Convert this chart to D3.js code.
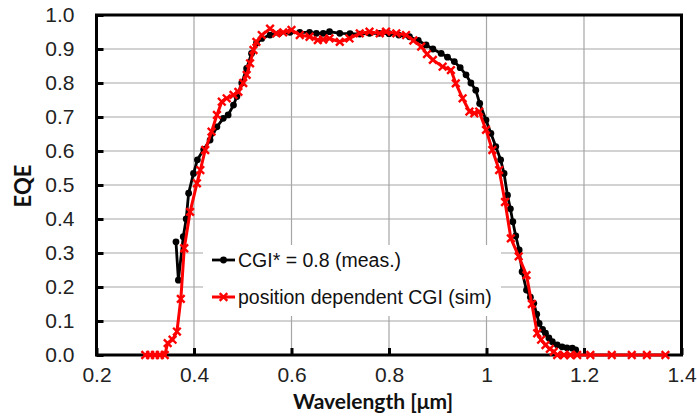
<!DOCTYPE html>
<html><head><meta charset="utf-8">
<script src="https://cdn.jsdelivr.net/npm/d3@7"></script>
<style>body{margin:0;background:#fff}svg{display:block}</style>
</head><body>
<script>
const xTicks = [0.2, 0.4, 0.6, 0.8, 1.0, 1.2, 1.4];
const xTickLabels = ["0.2", "0.4", "0.6", "0.8", "1", "1.2", "1.4"];
const yTicks = [0.0, 0.1, 0.2, 0.3, 0.4, 0.5, 0.6, 0.7, 0.8, 0.9, 1.0];
const seriesNames = ["CGI* = 0.8 (meas.)", "position dependent CGI (sim)"];

const measWl = [0.363,0.368,0.378,0.384,0.389,0.399,0.407,0.42,0.433,0.447,0.46,0.47,0.481,0.488,0.498,0.508,0.518,0.528,0.539,0.556,0.575,0.597,0.617,0.637,0.651,0.665,0.678,0.699,0.72,0.74,0.76,0.78,0.80,0.82,0.842,0.86,0.876,0.89,0.907,0.92,0.934,0.946,0.958,0.968,0.978,0.986,0.999,1.009,1.019,1.029,1.036,1.043,1.049,1.054,1.06,1.067,1.073,1.082,1.09,1.097,1.103,1.108,1.115,1.121,1.128,1.135,1.145,1.155,1.165,1.176,1.183];
const measEqe = [0.333,0.22,0.348,0.40,0.476,0.534,0.574,0.605,0.632,0.671,0.696,0.706,0.735,0.76,0.80,0.843,0.887,0.917,0.931,0.941,0.946,0.949,0.949,0.949,0.946,0.946,0.951,0.946,0.945,0.944,0.946,0.946,0.945,0.941,0.936,0.925,0.912,0.90,0.887,0.876,0.863,0.845,0.824,0.80,0.779,0.74,0.691,0.652,0.613,0.574,0.534,0.47,0.43,0.392,0.35,0.309,0.245,0.191,0.17,0.152,0.12,0.093,0.075,0.064,0.05,0.039,0.03,0.024,0.021,0.02,0.015];

const simWl = [0.30,0.31,0.32,0.33,0.34,0.346,0.356,0.365,0.373,0.38,0.392,0.406,0.413,0.423,0.436,0.447,0.457,0.467,0.481,0.491,0.501,0.508,0.515,0.522,0.528,0.539,0.556,0.569,0.583,0.60,0.617,0.637,0.654,0.665,0.678,0.699,0.719,0.74,0.76,0.781,0.794,0.815,0.835,0.85,0.866,0.878,0.89,0.91,0.927,0.937,0.951,0.965,0.975,0.985,0.999,1.012,1.026,1.038,1.05,1.066,1.082,1.093,1.104,1.112,1.121,1.13,1.138,1.145,1.159,1.172,1.186,1.213,1.257,1.298,1.329,1.367];
const simEqe = [0,0,0,0,0,0.035,0.045,0.069,0.165,0.314,0.421,0.505,0.544,0.603,0.657,0.706,0.745,0.755,0.765,0.774,0.80,0.824,0.858,0.897,0.921,0.941,0.96,0.946,0.949,0.956,0.941,0.936,0.926,0.928,0.931,0.921,0.931,0.946,0.951,0.946,0.951,0.946,0.941,0.925,0.907,0.885,0.868,0.848,0.838,0.799,0.755,0.716,0.711,0.716,0.662,0.603,0.544,0.45,0.343,0.29,0.235,0.15,0.064,0.045,0.029,0.018,0.01,0,0,0,0,0,0,0,0,0];

const W = 697, H = 418;
const L = 96.5, R = 681.5, T = 15, B = 355;
const svg = d3.select("body").append("svg").attr("width", W).attr("height", H);
const x = d3.scaleLinear().domain([0.2, 1.4]).range([L, R]);
const y = d3.scaleLinear().domain([0, 1]).range([B, T]);

// grid
const grid = svg.append("g").attr("stroke", "#a6a6a6").attr("stroke-width", 1.2);
grid.selectAll(".gx").data(xTicks.slice(1, -1)).join("line")
  .attr("x1", d => x(d)).attr("x2", d => x(d)).attr("y1", T).attr("y2", B);
grid.selectAll(".gy").data(yTicks.slice(1, -1)).join("line")
  .attr("x1", L).attr("x2", R).attr("y1", d => y(d)).attr("y2", d => y(d));

// legend box (behind data)
const legX = 203, legY = 245, legW = 298, legH = 71;
svg.append("rect").attr("x", legX).attr("y", legY).attr("width", legW).attr("height", legH).attr("fill", "#fff");

// frame
svg.append("rect").attr("x", L).attr("y", T).attr("width", R - L).attr("height", B - T)
  .attr("fill", "none").attr("stroke", "#000").attr("stroke-width", 3);

// axes with inner ticks
const xAxis = d3.axisBottom(x).tickValues(xTicks).tickFormat((d, i) => xTickLabels[i]).tickSizeInner(-7).tickSizeOuter(0).tickPadding(12);
const gx = svg.append("g").attr("transform", `translate(0,${B})`).call(xAxis);
gx.select(".domain").remove();
gx.selectAll(".tick line").attr("stroke", "#000").attr("stroke-width", 3);
gx.selectAll(".tick text").attr("font-family", "Liberation Sans, Arial, sans-serif").attr("font-size", 21).attr("fill", "#222");

const yAxis = d3.axisLeft(y).tickValues(yTicks).tickFormat(d3.format(".1f")).tickSizeInner(-7).tickSizeOuter(0).tickPadding(22);
const gy = svg.append("g").attr("transform", `translate(${L},0)`).call(yAxis);
gy.select(".domain").remove();
gy.selectAll(".tick line").attr("stroke", "#000").attr("stroke-width", 3);
gy.selectAll(".tick text").attr("font-family", "Liberation Sans, Arial, sans-serif").attr("font-size", 21).attr("fill", "#222");

// titles
svg.append("text").attr("x", 373).attr("y", 409).attr("text-anchor", "middle")
  .attr("font-family", "Lato, Open Sans, sans-serif").attr("font-weight", "bold").attr("font-size", 21)
  .attr("fill", "#111").text("Wavelength [\u03bcm]");
svg.append("text").attr("transform", "translate(31,186) rotate(-90)").attr("text-anchor", "middle")
  .attr("font-family", "Lato, Open Sans, sans-serif").attr("font-weight", "bold").attr("font-size", 22)
  .attr("fill", "#111").text("EQE");

const line = d3.line().x(d => x(d[0])).y(d => y(d[1]));
const meas = measWl.map((w, i) => [w, measEqe[i]]);
const sim = simWl.map((w, i) => [w, simEqe[i]]);

const xMark = (s) => `M${-s},${-s}L${s},${s}M${-s},${s}L${s},${-s}`;

// measured (black)
svg.append("path").datum(meas).attr("d", line).attr("fill", "none").attr("stroke", "#000").attr("stroke-width", 2.8).attr("stroke-linejoin", "round");
svg.append("g").selectAll("circle").data(meas).join("circle")
  .attr("cx", d => x(d[0])).attr("cy", d => y(d[1])).attr("r", 3.4).attr("fill", "#000");

// simulated (red)
svg.append("path").datum(sim).attr("d", line).attr("fill", "none").attr("stroke", "#f00").attr("stroke-width", 3).attr("stroke-linejoin", "round");
svg.append("g").selectAll("path").data(sim).join("path")
  .attr("transform", d => `translate(${x(d[0])},${y(d[1])})`).attr("d", xMark(3.8))
  .attr("stroke", "#f00").attr("stroke-width", 2.4).attr("fill", "none");

// legend entries
const leg = svg.append("g");
const ly = [260, 297];
leg.append("line").attr("x1", 212).attr("x2", 235).attr("y1", ly[0]).attr("y2", ly[0]).attr("stroke", "#000").attr("stroke-width", 2.8);
leg.append("circle").attr("cx", 223.5).attr("cy", ly[0]).attr("r", 3.4).attr("fill", "#000");
leg.append("line").attr("x1", 212).attr("x2", 235).attr("y1", ly[1]).attr("y2", ly[1]).attr("stroke", "#f00").attr("stroke-width", 3);
leg.append("path").attr("transform", `translate(223.5,${ly[1]})`).attr("d", xMark(3.8)).attr("stroke", "#f00").attr("stroke-width", 2.4);
leg.selectAll("text").data(seriesNames).join("text")
  .attr("x", 238).attr("y", (d, i) => ly[i] + 7)
  .attr("font-family", "Liberation Sans, Arial, sans-serif").attr("font-size", 19.5).attr("fill", "#111")
  .text(d => d);
</script>
</body></html>
